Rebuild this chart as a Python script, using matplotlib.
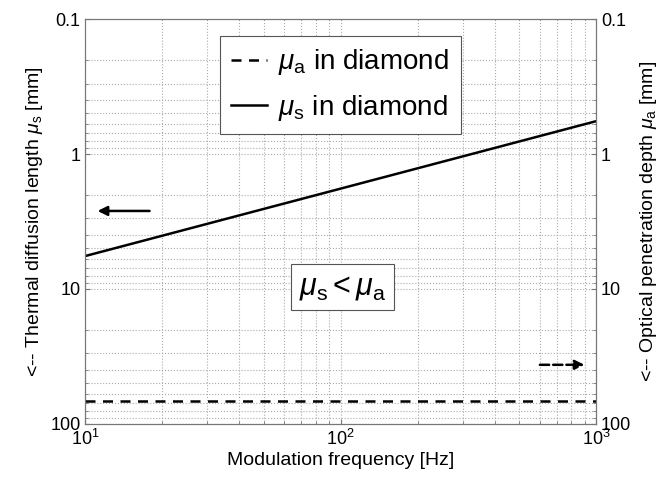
import numpy as np
import matplotlib
matplotlib.use('Agg')
import matplotlib.pyplot as plt
import matplotlib.ticker as tick

plt.rcParams['font.family'] = ['Liberation Sans', 'DejaVu Sans']
plt.rcParams['mathtext.fontset'] = 'custom'
plt.rcParams['mathtext.rm'] = 'Liberation Sans'
plt.rcParams['mathtext.it'] = 'Liberation Sans:italic'

# data
freq = [10, 1000]                 # Hz
mu_s = [5.7, 0.57]                # thermal diffusion length, mm
mu_a = [68, 68]                   # optical penetration depth, mm
y_ticks = [0.1, 1, 10, 100]
y_ticklabels = ['0.1', '1', '10', '100']

fig, ax = plt.subplots(figsize=(6.61, 4.8), dpi=100)
fig.subplots_adjust(left=0.129, right=0.902, top=0.960, bottom=0.117)

ax.plot(freq, mu_a, 'k--', linewidth=1.8, dashes=(4, 3), label=r'$\mu_{\rm a}$ in diamond')
ax.plot(freq, mu_s, 'k-', linewidth=1.8, label=r'$\mu_{\rm s}$ in diamond')

ax.set_xscale('log')
ax.set_yscale('log')
ax.set_xlim(10, 1000)
ax.set_ylim(100, 0.1)
ax.set_yticks(y_ticks)
ax.set_yticklabels(y_ticklabels)
ax.yaxis.set_minor_formatter(tick.NullFormatter())
ax.grid(True, which='both', linestyle=':', color='#aaaaaa', linewidth=0.8)
for s in ax.spines.values():
    s.set_color('#777777')
ax.tick_params(which='both', direction='in', colors='#777777', labelcolor='black', labelsize=13)

ax.set_xlabel('Modulation frequency [Hz]', fontsize=14, labelpad=2)
ax.set_ylabel(r'<-- Thermal diffusion length $\mu_{\rm s}$ [mm]', fontsize=14, labelpad=4)

ax2 = ax.twinx()
ax2.set_yscale('log')
ax2.set_ylim(100, 0.1)
ax2.set_yticks(y_ticks)
ax2.set_yticklabels(y_ticklabels)
ax2.yaxis.set_minor_formatter(tick.NullFormatter())
ax2.tick_params(which='both', direction='in', colors='#777777', labelcolor='black', labelsize=13)
for s in ax2.spines.values():
    s.set_color('#777777')
ax2.set_ylabel(r'<-- Optical penetration depth $\mu_{\rm a}$ [mm]', fontsize=14, labelpad=5)

leg = ax.legend(loc='upper left', bbox_to_anchor=(0.264, 0.958), borderaxespad=0, fontsize=20,
                fancybox=False, framealpha=1, edgecolor='#555555', handlelength=1.3,
                handletextpad=0.4, borderpad=0.4, labelspacing=0.55)
leg.get_frame().set_linewidth(0.8)

ax.text(0.503, 0.338, r'$\mu_{\rm s} < \mu_{\rm a}$', transform=ax.transAxes, fontsize=22,
        ha='center', va='center',
        bbox=dict(boxstyle='square,pad=0.25', facecolor='white', edgecolor='#555555', linewidth=0.8))

ax.annotate('', xy=(10.9, 2.64), xytext=(18.3, 2.64),
            arrowprops=dict(arrowstyle='-|>', color='black', lw=1.8, mutation_scale=14))
ax.annotate('', xy=(922, 36.5), xytext=(587, 36.5),
            arrowprops=dict(arrowstyle='-|>', color='black', lw=1.8, linestyle='--', mutation_scale=14))

plt.savefig('out.png', dpi=100)
